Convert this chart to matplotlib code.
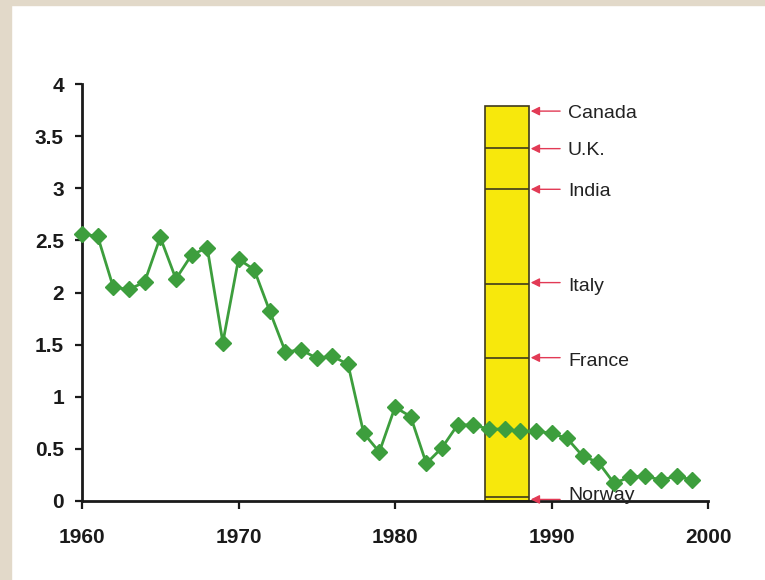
import matplotlib
matplotlib.use("Agg")
from matplotlib import pyplot as plt
from matplotlib.patches import Rectangle

plt.rcParams['font.family'] = ['Liberation Sans', 'DejaVu Sans']

years = list(range(1960, 2000))
values = [2.56, 2.54, 2.05, 2.03, 2.10, 2.53, 2.13, 2.36, 2.43, 1.52,
          2.32, 2.22, 1.82, 1.43, 1.45, 1.37, 1.39, 1.31, 0.65, 0.47,
          0.90, 0.81, 0.36, 0.51, 0.73, 0.73, 0.69, 0.69, 0.67, 0.67,
          0.65, 0.60, 0.43, 0.37, 0.17, 0.23, 0.24, 0.20, 0.24, 0.20]

countries = ['Canada', 'U.K.', 'India', 'Italy', 'France', 'Norway']
country_values = [3.79, 3.39, 2.99, 2.08, 1.375, 0.04]
arrow_values = [3.74, 3.38, 2.99, 2.095, 1.375, 0.015]
label_values = [3.72, 3.36, 2.97, 2.06, 1.34, 0.05]

bar_left = 1985.75
bar_right = 1988.55

fig = plt.figure(figsize=(7.65, 5.8), dpi=100)
fig.patch.set_facecolor('white')
# tan frame of the scan
fig.patches.append(Rectangle((0, 0), 11/765, 1, transform=fig.transFigure,
                             color='#e2d9c9', zorder=0))
fig.patches.append(Rectangle((0, 1 - 5/580), 1, 5/580, transform=fig.transFigure,
                             color='#e2d9c9', zorder=0))

ax = fig.add_axes([82/765, 79/580, (708 - 82)/765, (501 - 84)/580])
ax.set_xlim(1960, 2000)
ax.set_ylim(0, 4)

# yellow column with country levels
ax.bar((bar_left + bar_right)/2, max(country_values), width=bar_right - bar_left,
       bottom=0, color='#f7e80c', edgecolor='#3f3a1c', linewidth=1.2, zorder=2,
       align='center')
ax.hlines(country_values[1:], bar_left, bar_right, color='#3f3a1c',
          linewidth=1.2, zorder=2)

for name, ya, yt in zip(countries, arrow_values, label_values):
    ax.annotate('', xy=(bar_right + 0.12, ya), xytext=(1990.55, ya),
                arrowprops=dict(arrowstyle='-|>', color='#e23a55', lw=1.0,
                                mutation_scale=13, shrinkA=0, shrinkB=0),
                zorder=3, annotation_clip=False)
    ax.text(1991.05, yt, name, fontsize=14, va='center', ha='left',
            color='#222222', zorder=4, clip_on=False)

ax.plot(years, values, color='#3d9e3d', linewidth=2.0, marker='D',
        markersize=8, markerfacecolor='#3d9e3d', markeredgecolor='#3d9e3d',
        zorder=5, clip_on=False)

ax.spines['top'].set_visible(False)
ax.spines['right'].set_visible(False)
ax.spines['left'].set_linewidth(2)
ax.spines['bottom'].set_linewidth(2)
ax.spines['left'].set_color('#1a1a1a')
ax.spines['bottom'].set_color('#1a1a1a')

ax.set_xticks([1960, 1970, 1980, 1990, 2000])
ax.set_yticks([0, 0.5, 1, 1.5, 2, 2.5, 3, 3.5, 4])
ax.set_yticklabels(['0', '0.5', '1', '1.5', '2', '2.5', '3', '3.5', '4'])
ax.tick_params(axis='x', direction='out', length=5.5, width=1.6, pad=14,
               labelsize=15, colors='#1a1a1a')
ax.tick_params(axis='y', direction='out', length=5, width=1.6, pad=8,
               labelsize=15, colors='#1a1a1a')
for lab in ax.get_xticklabels() + ax.get_yticklabels():
    lab.set_fontweight('bold')

fig.savefig('out.png', dpi=100)
